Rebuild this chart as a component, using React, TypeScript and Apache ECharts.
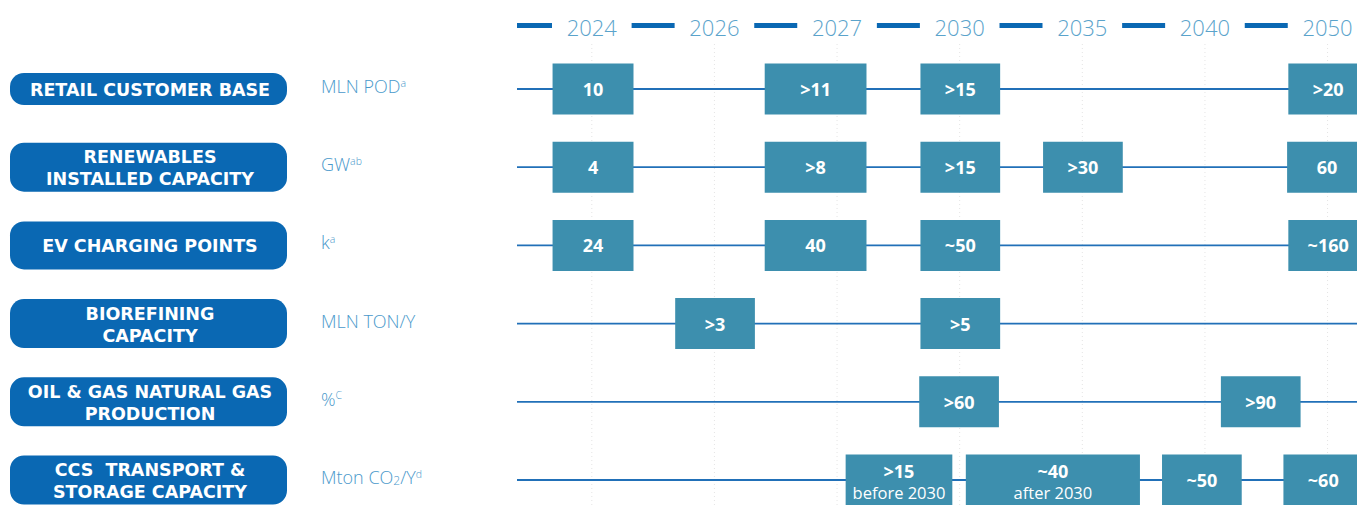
import React, { useEffect, useRef } from "react";
import * as echarts from "echarts";

// ---- data ----
const years = ["2024", "2026", "2027", "2030", "2035", "2040", "2050"];

const rowTitles = [
  "RETAIL CUSTOMER BASE",
  "RENEWABLES\nINSTALLED CAPACITY",
  "EV CHARGING POINTS",
  "BIOREFINING\nCAPACITY",
  "OIL & GAS NATURAL GAS\nPRODUCTION",
  "CCS  TRANSPORT &\nSTORAGE CAPACITY",
];

const rowUnits = [
  "MLN POD{sup|a}",
  "GW{sup|ab}",
  "k{sup|a}",
  "MLN TON/Y",
  "%{sup|C}",
  "Mton CO{sub|2}/Y{sup|d}",
];

// milestones: from / to on the timeline (year-column index units)
type Box = { from: number; to: number; label: string; note?: string };

const retailBoxes: Box[] = [
  { from: -0.32, to: 0.34, label: "10" },
  { from: 1.41, to: 2.24, label: ">11" },
  { from: 2.68, to: 3.33, label: ">15" },
  { from: 5.68, to: 6.33, label: ">20" },
];
const renewablesBoxes: Box[] = [
  { from: -0.32, to: 0.34, label: "4" },
  { from: 1.41, to: 2.24, label: ">8" },
  { from: 2.68, to: 3.33, label: ">15" },
  { from: 3.68, to: 4.33, label: ">30" },
  { from: 5.67, to: 6.32, label: "60" },
];
const evBoxes: Box[] = [
  { from: -0.32, to: 0.34, label: "24" },
  { from: 1.41, to: 2.24, label: "40" },
  { from: 2.68, to: 3.33, label: "~50" },
  { from: 5.68, to: 6.33, label: "~160" },
];
const biorefiningBoxes: Box[] = [
  { from: 0.68, to: 1.33, label: ">3" },
  { from: 2.68, to: 3.33, label: ">5" },
];
const gasBoxes: Box[] = [
  { from: 2.67, to: 3.32, label: ">60" },
  { from: 5.13, to: 5.78, label: ">90" },
];
const ccsBoxes: Box[] = [
  { from: 2.07, to: 2.94, label: ">15", note: "before 2030" },
  { from: 3.05, to: 4.47, label: "~40", note: "after 2030" },
  { from: 4.65, to: 5.3, label: "~50" },
  { from: 5.64, to: 6.29, label: "~60" },
];

const rowBoxes = [retailBoxes, renewablesBoxes, evBoxes, biorefiningBoxes, gasBoxes, ccsBoxes];

// ---- styles ----
const PILL_COLOR = "#0a68b3";
const BOX_COLOR = "#3d8fae";
const LINE_COLOR = "#2170b8";
const LIGHT_TEXT = "#4a99cb";
const pillHeights = [32, 49, 48, 49, 49, 49];
const BOX_H = 51;

export default function App() {
  const ref = useRef<HTMLDivElement>(null);

  useEffect(() => {
    if (!ref.current) return;
    const chart = echarts.init(ref.current, null, { renderer: "svg" });

    const flatBoxes: { box: Box; row: number }[] = [];
    rowBoxes.forEach((list, r) => list.forEach((box) => flatBoxes.push({ box, row: r })));

    const option: any = {
      animation: false,
      grid: { left: 517, right: 0, top: 89, bottom: 25 },
      xAxis: { type: "value", min: -0.61, max: 6.24, show: false },
      yAxis: {
        type: "category",
        data: rowTitles,
        inverse: true,
        boundaryGap: false,
        show: false,
      },
      series: [
        {
          type: "custom",
          name: "header",
          data: years.map((y, i) => [i, 0]),
          encode: { x: 0, y: 1 },
          renderItem: (params: any, api: any) => {
            const i = api.value(0);
            const p = api.coord([i, 0]);
            const cs = params.coordSys;
            const top = p[1] - 62;
            const mid = api.coord([i - 0.5, 0])[0];
            const x0 = Math.max(cs.x, mid - 21.5);
            const x1 = mid + 21.5;
            return {
              type: "group",
              children: [
                {
                  type: "line",
                  shape: { x1: p[0], y1: top + 17, x2: p[0], y2: 505 },
                  style: { stroke: "#e4e4e4", lineWidth: 1, lineDash: [1, 3] },
                  silent: true,
                },
                {
                  type: "rect",
                  shape: { x: x0, y: top - 4, width: x1 - x0, height: 5 },
                  style: { fill: PILL_COLOR },
                },
                {
                  type: "text",
                  style: {
                    text: years[i],
                    x: p[0],
                    y: top,
                    align: "center",
                    verticalAlign: "middle",
                    fill: "#5aa3cb",
                    font: '300 22px "Open Sans"',
                  },
                },
              ],
            };
          },
        },
        {
          type: "custom",
          name: "rows",
          data: rowTitles.map((t, i) => [0, i]),
          encode: { x: 0, y: 1 },
          z: 3,
          renderItem: (params: any, api: any) => {
            const r = api.value(1);
            const cs = params.coordSys;
            const cy = api.coord([0, r])[1];
            const h = pillHeights[r];
            return {
              type: "group",
              children: [
                {
                  type: "line",
                  shape: { x1: cs.x, y1: cy, x2: cs.x + cs.width, y2: cy },
                  style: { stroke: LINE_COLOR, lineWidth: 1.8 },
                },
                {
                  type: "rect",
                  shape: { x: 10, y: cy - h / 2, width: 277, height: h, r: Math.min(14, h / 2) },
                  style: { fill: PILL_COLOR },
                },
                {
                  type: "text",
                  style: {
                    text: rowTitles[r],
                    x: 150,
                    y: cy + 1,
                    align: "center",
                    verticalAlign: "middle",
                    fill: "#ffffff",
                    font: 'bold 17.5px "DejaVu Sans"',
                    lineHeight: 22,
                  },
                },
                {
                  type: "text",
                  style: {
                    text: rowUnits[r],
                    x: 321,
                    y: cy - 3,
                    align: "left",
                    verticalAlign: "middle",
                    fill: LIGHT_TEXT,
                    font: '300 18px "Open Sans"',
                    rich: {
                      sup: {
                        fontSize: 10.5,
                        fontFamily: "Open Sans",
                        fontWeight: 300,
                        fill: LIGHT_TEXT,
                        verticalAlign: "top",
                      },
                      sub: {
                        fontSize: 12,
                        fontFamily: "Open Sans",
                        fontWeight: 300,
                        fill: LIGHT_TEXT,
                        verticalAlign: "bottom",
                      },
                    },
                  },
                },
              ],
            };
          },
        },
        {
          type: "custom",
          name: "milestones",
          data: flatBoxes.map((b) => [b.box.from, b.box.to, b.row]),
          encode: { x: [0, 1], y: 2 },
          z: 5,
          renderItem: (params: any, api: any) => {
            const item = flatBoxes[params.dataIndex].box;
            const r = api.value(2);
            const p0 = api.coord([api.value(0), r]);
            const p1 = api.coord([api.value(1), r]);
            const cx = (p0[0] + p1[0]) / 2;
            const cy = p0[1];
            const children: any[] = [
              {
                type: "rect",
                shape: { x: p0[0], y: cy - BOX_H / 2, width: p1[0] - p0[0], height: BOX_H },
                style: { fill: BOX_COLOR },
              },
            ];
            if (item.note) {
              children.push(
                {
                  type: "text",
                  style: {
                    text: item.label,
                    x: cx,
                    y: cy - 9,
                    align: "center",
                    verticalAlign: "middle",
                    fill: "#ffffff",
                    font: 'bold 18px "Open Sans"',
                  },
                },
                {
                  type: "text",
                  style: {
                    text: item.note,
                    x: cx,
                    y: cy + 12,
                    align: "center",
                    verticalAlign: "middle",
                    fill: "#ffffff",
                    font: '16.5px "Open Sans"',
                  },
                }
              );
            } else {
              children.push({
                type: "text",
                style: {
                  text: item.label,
                  x: cx,
                  y: cy,
                  align: "center",
                  verticalAlign: "middle",
                  fill: "#ffffff",
                  font: 'bold 18px "Open Sans"',
                },
              });
            }
            return { type: "group", children };
          },
        },
      ],
    };

    chart.setOption(option);
    return () => chart.dispose();
  }, []);

  return (
    <div
      ref={ref}
      style={{ position: "fixed", left: 0, top: 0, width: 1357, height: 505, background: "#ffffff" }}
    />
  );
}
